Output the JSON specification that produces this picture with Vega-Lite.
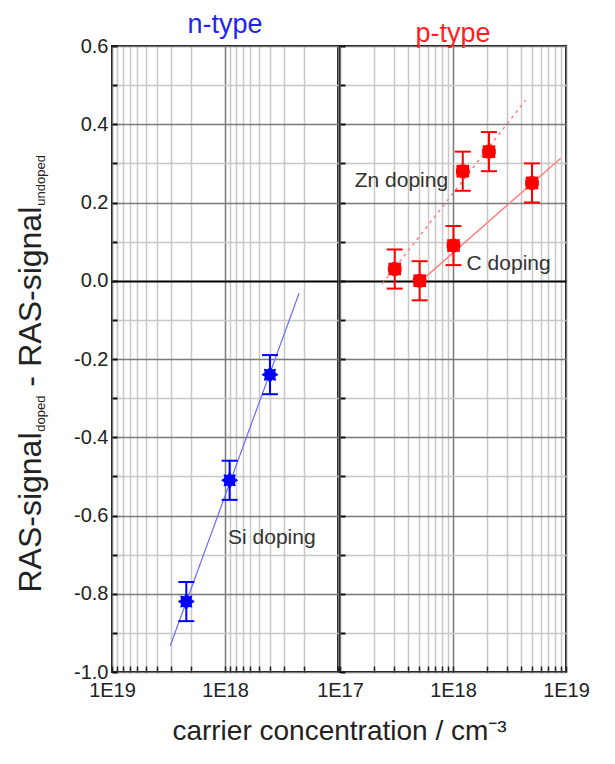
{
  "$schema": "https://vega.github.io/schema/vega-lite/v6.json",
  "padding": {"left": 13, "top": 10, "right": 10, "bottom": 10},
  "background": "white",
  "bounds": "flush",
  "config": {
    "font": "Liberation Sans",
    "view": {"stroke": "#111", "strokeWidth": 2},
    "concat": {"spacing": 2},
    "axis": {"domain": false, "labelFont": "Liberation Sans", "labelFontSize": 20, "labelColor": "#222", "titleFont": "Liberation Sans"}
  },
  "datasets": {
    "pts": [
      {"panel": "n", "dop": "Si", "x": 2.2e18, "y": -0.82, "lo": -0.87, "hi": -0.77},
      {"panel": "n", "dop": "Si", "x": 9.1e17, "y": -0.51, "lo": -0.56, "hi": -0.46},
      {"panel": "n", "dop": "Si", "x": 4.0e17, "y": -0.24, "lo": -0.29, "hi": -0.19},
      {"panel": "p", "dop": "Zn", "x": 3.05e17, "y": 0.03, "lo": -0.02, "hi": 0.08},
      {"panel": "p", "dop": "Zn", "x": 1.22e18, "y": 0.28, "lo": 0.23, "hi": 0.33},
      {"panel": "p", "dop": "Zn", "x": 2.08e18, "y": 0.33, "lo": 0.28, "hi": 0.38},
      {"panel": "p", "dop": "C", "x": 5.07e17, "y": 0.0, "lo": -0.05, "hi": 0.05},
      {"panel": "p", "dop": "C", "x": 1.01e18, "y": 0.09, "lo": 0.04, "hi": 0.14},
      {"panel": "p", "dop": "C", "x": 5.0e18, "y": 0.25, "lo": 0.2, "hi": 0.3}
    ],
    "fits": [
      {"dop": "Si", "x": 3.05e18, "y": -0.933},
      {"dop": "Si", "x": 2.21e17, "y": -0.032},
      {"dop": "Zn", "x": 2.37e17, "y": -0.008},
      {"dop": "Zn", "x": 4.4e18, "y": 0.462},
      {"dop": "C", "x": 5.43e17, "y": 0.004},
      {"dop": "C", "x": 8.98e18, "y": 0.313}
    ],
    "notes": [
      {"panel": "n", "t": "Si doping", "x": 9.4e17, "y": -0.673},
      {"panel": "p", "t": "Zn doping", "x": 1.35e17, "y": 0.24},
      {"panel": "p", "t": "C doping", "x": 1.32e18, "y": 0.027}
    ],
    "ytm": [
      {"t": "RAS-signal", "x": 4.25e19, "y": -0.797},
      {"t": "-", "x": 4.25e19, "y": -0.271},
      {"t": "RAS-signal", "x": 4.25e19, "y": -0.22}
    ],
    "yts": [
      {"t": "doped", "x": 4.25e19, "y": -0.386},
      {"t": "undoped", "x": 4.25e19, "y": 0.192}
    ]
  },
  "hconcat": [
    {
      "width": 226,
      "height": 626,
      "title": {"text": "n-type", "color": "#1f1fff", "fontSize": 27, "fontWeight": "normal", "offset": -3},
      "encoding": {
        "x": {
          "field": "x", "type": "quantitative",
          "scale": {"type": "log", "domain": [1e17, 1e19], "reverse": true, "nice": false},
          "axis": {
            "values": [1e17, 2e17, 3e17, 4e17, 5e17, 6e17, 7e17, 8e17, 9e17, 1e18, 2e18, 3e18, 4e18, 5e18, 6e18, 7e18, 8e18, 9e18, 1e19],
            "labelExpr": "abs(log(datum.value)/LN10 - round(log(datum.value)/LN10)) < 0.001 && round(log(datum.value)/LN10) != 17 ? '1E' + round(log(datum.value)/LN10) : ''",
            "grid": true,
            "gridColor": {"condition": {"test": "abs(log(datum.value)/LN10 - round(log(datum.value)/LN10)) < 0.001", "value": "#7a7a7a"}, "value": "#c8c8c8"},
            "gridWidth": 1.5,
            "tickColor": "#222", "tickWidth": 1.5, "tickSize": -6,
            "labelPadding": 14, "labelFlush": false, "labelOverlap": false,
            "title": "carrier concentration / cm⁻³",
            "titleFontSize": 28, "titleFontWeight": "normal", "titleColor": "#222",
            "titleX": 227, "titleY": 67, "titleAlign": "center", "titleBaseline": "alphabetic"
          }
        },
        "y": {
          "field": "y", "type": "quantitative",
          "scale": {"domain": [-1, 0.6], "nice": false, "zero": false},
          "axis": {
            "values": [-1.0, -0.9, -0.8, -0.7, -0.6, -0.5, -0.4, -0.3, -0.2, -0.1, 0.0, 0.1, 0.2, 0.3, 0.4, 0.5, 0.6],
            "labelExpr": "abs(datum.value*5 - round(datum.value*5)) < 0.01 ? replace(format(datum.value, '.1f'), '\u2212', '-') : ''",
            "grid": true,
            "gridColor": {"condition": [{"test": "abs(datum.value) < 0.001", "value": "#000000"}, {"test": "abs(datum.value*5 - round(datum.value*5)) < 0.01", "value": "#7a7a7a"}], "value": "#c8c8c8"},
            "gridWidth": {"condition": {"test": "abs(datum.value) < 0.001", "value": 2}, "value": 1.5},
            "tickColor": "#111", "tickWidth": 2, "tickSize": -5,
            "labelPadding": 9, "labelOverlap": false,
            "title": null
          }
        }
      },
      "layer": [
        {
          "data": {"name": "fits"},
          "transform": [{"filter": "datum.dop === 'Si'"}],
          "mark": {"type": "line", "color": "#6a6aff", "strokeWidth": 1.2}
        },
        {
          "data": {"name": "pts"},
          "transform": [{"filter": "datum.panel === 'n'"}],
          "mark": {"type": "rule", "color": "#0000ff", "strokeWidth": 2},
          "encoding": {"y": {"field": "lo", "type": "quantitative"}, "y2": {"field": "hi"}}
        },
        {
          "data": {"name": "pts"},
          "transform": [{"filter": "datum.panel === 'n'"}],
          "mark": {"type": "tick", "orient": "horizontal", "size": 16, "thickness": 2, "color": "#0000ff", "opacity": 1},
          "encoding": {"y": {"field": "lo", "type": "quantitative"}}
        },
        {
          "data": {"name": "pts"},
          "transform": [{"filter": "datum.panel === 'n'"}],
          "mark": {"type": "tick", "orient": "horizontal", "size": 16, "thickness": 2, "color": "#0000ff", "opacity": 1},
          "encoding": {"y": {"field": "hi", "type": "quantitative"}}
        },
        {
          "data": {"name": "pts"},
          "transform": [{"filter": "datum.panel === 'n'"}],
          "mark": {"type": "point", "shape": "M0,-1L0.26,-0.628L0.707,-0.707L0.628,-0.26L1,0L0.628,0.26L0.707,0.707L0.26,0.628L0,1L-0.26,0.628L-0.707,0.707L-0.628,0.26L-1,0L-0.628,-0.26L-0.707,-0.707L-0.26,-0.628Z", "filled": true, "size": 290, "color": "#0000ff", "opacity": 1}
        },
        {
          "data": {"name": "notes"},
          "transform": [{"filter": "datum.panel === 'n'"}],
          "mark": {"type": "text", "align": "left", "baseline": "alphabetic", "fontSize": 21, "color": "#333"},
          "encoding": {"text": {"field": "t"}}
        },
        {
          "data": {"name": "ytm"},
          "mark": {"type": "text", "angle": 270, "align": "left", "baseline": "alphabetic", "fontSize": 32, "color": "#222"},
          "encoding": {"text": {"field": "t"}}
        },
        {
          "data": {"name": "yts"},
          "mark": {"type": "text", "angle": 270, "align": "left", "baseline": "alphabetic", "fontSize": 13, "dy": 4, "color": "#222"},
          "encoding": {"text": {"field": "t"}}
        }
      ]
    },
    {
      "width": 226,
      "height": 626,
      "title": {"text": "p-type", "color": "#ff1f1f", "fontSize": 27, "fontWeight": "normal", "offset": -3},
      "encoding": {
        "x": {
          "field": "x", "type": "quantitative",
          "scale": {"type": "log", "domain": [1e17, 1e19], "nice": false},
          "axis": {
            "values": [1e17, 2e17, 3e17, 4e17, 5e17, 6e17, 7e17, 8e17, 9e17, 1e18, 2e18, 3e18, 4e18, 5e18, 6e18, 7e18, 8e18, 9e18, 1e19],
            "labelExpr": "abs(log(datum.value)/LN10 - round(log(datum.value)/LN10)) < 0.001 ? '1E' + round(log(datum.value)/LN10) : ''",
            "grid": true,
            "gridColor": {"condition": {"test": "abs(log(datum.value)/LN10 - round(log(datum.value)/LN10)) < 0.001", "value": "#7a7a7a"}, "value": "#c8c8c8"},
            "gridWidth": 1.5,
            "tickColor": "#222", "tickWidth": 1.5, "tickSize": -6,
            "labelPadding": 14, "labelFlush": false, "labelOverlap": false,
            "title": null
          }
        },
        "y": {
          "field": "y", "type": "quantitative",
          "scale": {"domain": [-1, 0.6], "nice": false, "zero": false},
          "axis": {
            "values": [-1.0, -0.9, -0.8, -0.7, -0.6, -0.5, -0.4, -0.3, -0.2, -0.1, 0.0, 0.1, 0.2, 0.3, 0.4, 0.5, 0.6],
            "labels": false,
            "grid": true,
            "gridColor": {"condition": [{"test": "abs(datum.value) < 0.001", "value": "#000000"}, {"test": "abs(datum.value*5 - round(datum.value*5)) < 0.01", "value": "#7a7a7a"}], "value": "#c8c8c8"},
            "gridWidth": {"condition": {"test": "abs(datum.value) < 0.001", "value": 2}, "value": 1.5},
            "tickColor": "#111", "tickWidth": 2, "tickSize": -5,
            "title": null
          }
        }
      },
      "layer": [
        {
          "data": {"name": "fits"},
          "transform": [{"filter": "datum.dop === 'C'"}],
          "mark": {"type": "line", "color": "#ff8080", "strokeWidth": 1.5}
        },
        {
          "data": {"name": "fits"},
          "transform": [{"filter": "datum.dop === 'Zn'"}],
          "mark": {"type": "line", "color": "#ff8080", "strokeWidth": 1.5, "strokeDash": [3, 4]}
        },
        {
          "data": {"name": "pts"},
          "transform": [{"filter": "datum.panel === 'p'"}],
          "mark": {"type": "rule", "color": "#ff0000", "strokeWidth": 2},
          "encoding": {"y": {"field": "lo", "type": "quantitative"}, "y2": {"field": "hi"}}
        },
        {
          "data": {"name": "pts"},
          "transform": [{"filter": "datum.panel === 'p'"}],
          "mark": {"type": "tick", "orient": "horizontal", "size": 16, "thickness": 2, "color": "#ff0000", "opacity": 1},
          "encoding": {"y": {"field": "lo", "type": "quantitative"}}
        },
        {
          "data": {"name": "pts"},
          "transform": [{"filter": "datum.panel === 'p'"}],
          "mark": {"type": "tick", "orient": "horizontal", "size": 16, "thickness": 2, "color": "#ff0000", "opacity": 1},
          "encoding": {"y": {"field": "hi", "type": "quantitative"}}
        },
        {
          "data": {"name": "pts"},
          "transform": [{"filter": "datum.panel === 'p'"}],
          "mark": {"type": "point", "shape": "square", "filled": true, "size": 160, "color": "#ff0000", "opacity": 1}
        },
        {
          "data": {"name": "pts"},
          "transform": [{"filter": "datum.panel === 'p'"}],
          "mark": {"type": "point", "shape": "cross", "filled": true, "size": 185, "color": "#ff0000", "opacity": 1}
        },
        {
          "data": {"name": "notes"},
          "transform": [{"filter": "datum.panel === 'p'"}],
          "mark": {"type": "text", "align": "left", "baseline": "alphabetic", "fontSize": 21, "color": "#333"},
          "encoding": {"text": {"field": "t"}}
        }
      ]
    }
  ]
}
